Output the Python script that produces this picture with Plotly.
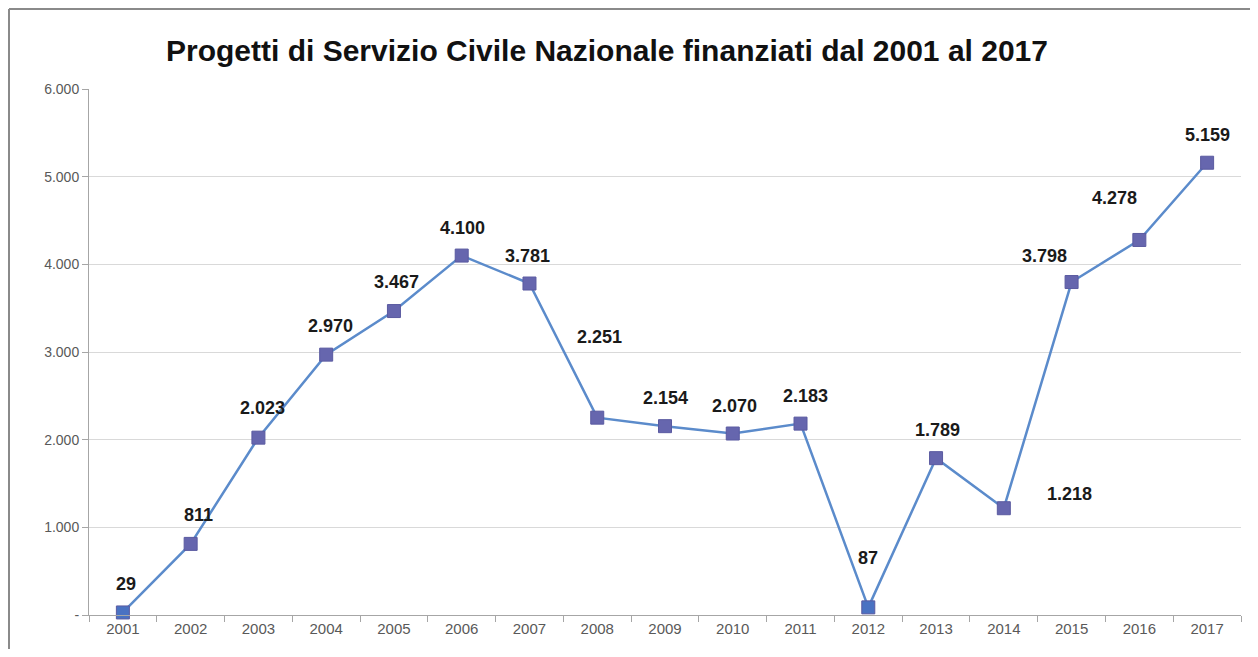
import plotly.graph_objects as go

years = [str(y) for y in range(2001, 2018)]
values = [29, 811, 2023, 2970, 3467, 4100, 3781, 2251, 2154, 2070, 2183, 87, 1789, 1218, 3798, 4278, 5159]
labels = ["29", "811", "2.023", "2.970", "3.467", "4.100", "3.781", "2.251", "2.154", "2.070",
          "2.183", "87", "1.789", "1.218", "3.798", "4.278", "5.159"]
ytick_vals = [0, 1000, 2000, 3000, 4000, 5000, 6000]
ytick_text = ["-", "1.000", "2.000", "3.000", "4.000", "5.000", "6.000"]

# label offsets in pixels (dx, dy)
offsets = [(3, -28), (8, -29), (4, -30), (4, -29), (3, -29), (1, -28), (-2, -28), (2, -81),
           (0, -28), (2, -28), (5, -28), (0, -49), (1, -28), (66, -14), (-27, -26), (-25, -42), (0, -28)]

# marker colours (the two near-zero points look bluer in the reference)
marker_colors = ["#4A72C2" if v < 100 else "#6666AE" for v in values]

fig = go.Figure()
fig.add_trace(go.Scatter(
    x=years, y=values, mode="lines+markers",
    line=dict(color="#5B8BCB", width=2.5),
    marker=dict(symbol="square", size=13, color=marker_colors, line=dict(color="#5A5AA0", width=1)),
    hoverinfo="skip", showlegend=False, cliponaxis=False,
))

annots = []
for i, (v, lab, (dx, dy)) in enumerate(zip(values, labels, offsets)):
    # category axis: annotation x is the category's serial index
    annots.append(dict(x=i, y=v, xref="x", yref="y", text="<b>" + lab + "</b>",
                       showarrow=False, xshift=dx, yshift=-dy,
                       font=dict(family="Liberation Sans", size=18, color="#1a1a1a")))

# page is offset by the browser's 8px body margin; keep the page within the window
OFF = 8
W, H = 1258 - 2 * OFF, 657 - 2 * OFF
L, T = 89 - OFF, 89 - OFF
R = W - (1241 - OFF)
B = H - (615 - OFF)
pw, ph = W - L - R, H - T - B

def px_x(x):
    return (x - OFF - L) / pw

def px_y(y):
    return (H - B - (y - OFF)) / ph

# chart-area frame: left and top edges (the others fall outside the picture)
fig.add_shape(type="line", xref="paper", yref="paper",
              x0=px_x(9), x1=px_x(9), y0=px_y(700), y1=px_y(9),
              line=dict(color="#8a8a8a", width=2), layer="below")
fig.add_shape(type="line", xref="paper", yref="paper",
              x0=px_x(9), x1=px_x(1300), y0=px_y(9), y1=px_y(9),
              line=dict(color="#8a8a8a", width=2), layer="below")

fig.update_layout(
    width=W, height=H,
    margin=dict(l=L, r=R, t=T, b=B),
    paper_bgcolor="white", plot_bgcolor="white",
    annotations=annots,
    title=dict(text="<b>Progetti di Servizio Civile Nazionale finanziati dal 2001 al 2017</b>",
               x=(607 - OFF) / W, xanchor="center", y=1 - (50 - OFF) / H, yanchor="middle",
               font=dict(family="Liberation Sans", size=30, color="#111111")),
    xaxis=dict(type="category", range=[-0.5, 16.5], showgrid=False,
               showline=True, linecolor="#a6a6a6", linewidth=1,
               ticks="outside", tickson="boundaries", ticklen=6, tickcolor="#a6a6a6",
               tickfont=dict(family="Liberation Sans", size=15, color="#595959")),
    yaxis=dict(range=[0, 6000], tickvals=ytick_vals, ticktext=ytick_text,
               showgrid=True, gridcolor="#d9d9d9", gridwidth=1,
               showline=True, linecolor="#a6a6a6", linewidth=1,
               ticks="outside", ticklen=6, tickcolor="#a6a6a6", zeroline=False,
               tickfont=dict(family="Liberation Sans", size=14, color="#595959")),
)

fig.write_html("out.html")
